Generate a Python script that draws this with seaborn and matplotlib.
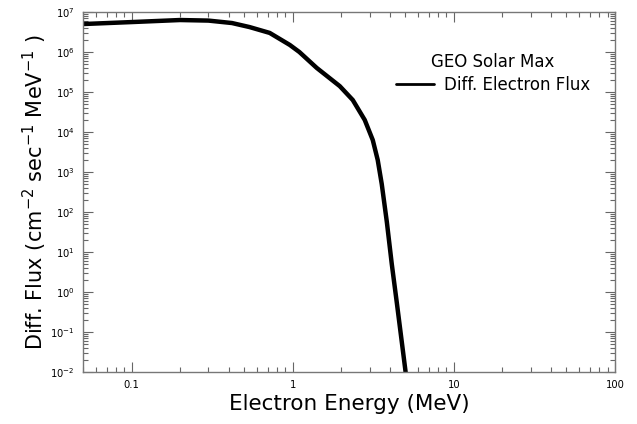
#!/usr/bin/env python
import numpy as np
import pandas as pd
import seaborn as sns
from matplotlib import pyplot as plt
from matplotlib.ticker import LogLocator, LogFormatterSciNotation, FixedLocator, FixedFormatter

sns.set_theme(style="ticks")
plt.rcParams['font.family'] = ['DejaVu Sans']
plt.rcParams['text.color'] = 'black'
plt.rcParams['axes.labelcolor'] = 'black'

# energy (MeV) and differential electron flux
energy = [0.05, 0.1, 0.2, 0.3, 0.42, 0.54, 0.72, 0.96, 1.1, 1.41, 1.96, 2.36,
          2.80, 3.14, 3.37, 3.57, 3.84, 4.12, 4.43, 5.02]
flux = [5.0e6, 5.6e6, 6.3e6, 6.1e6, 5.3e6, 4.2e6, 3.0e6, 1.5e6, 1.0e6, 4.0e5,
        1.4e5, 6.3e4, 2.0e4, 6.3e3, 2.0e3, 5.0e2, 5.6e1, 5.0, 5.3e-1, 1.0e-2]

df = pd.DataFrame({"energy": energy, "flux": flux, "series": "Diff. Electron Flux"})

fig = plt.figure(figsize=(6.37, 4.24), dpi=100)
ax = fig.add_axes([83/637, 1 - 372/424, (615 - 83)/637, (372 - 12)/424])

sns.lineplot(data=df, x="energy", y="flux", hue="series", palette=["black"],
             linewidth=3.2, ax=ax, legend=True)

ax.set_xscale("log")
ax.set_yscale("log")
ax.set_xlim(0.05, 100)
ax.set_ylim(1e-2, 1e7)

ax.xaxis.set_major_locator(FixedLocator([0.1, 1, 10, 100]))
ax.xaxis.set_major_formatter(FixedFormatter(["0.1", "1", "10", "100"]))
ax.xaxis.set_minor_locator(LogLocator(base=10, subs=np.arange(2, 10), numticks=20))
ax.yaxis.set_major_locator(LogLocator(base=10, numticks=20))
ax.yaxis.set_major_formatter(LogFormatterSciNotation())
ax.yaxis.set_minor_locator(LogLocator(base=10, subs=np.arange(2, 10), numticks=20))

ax.tick_params(which="both", direction="in", top=True, right=True, bottom=True, left=True,
               colors="#666666", labelcolor="black", labelsize=7.2)
ax.tick_params(which="major", length=7, width=0.8, pad=6)
ax.tick_params(which="minor", length=3.5, width=0.8)
for s in ax.spines.values():
    s.set_visible(True)
    s.set_color("#777777")
    s.set_linewidth(1)

ax.set_xlabel("Electron Energy (MeV)", fontsize=15.5, labelpad=3)
ax.set_ylabel("Diff. Flux (cm$^{-2}$ sec$^{-1}$ MeV$^{-1}$ )", fontsize=15, labelpad=1)

leg = ax.legend(title="GEO Solar Max", loc="upper right", bbox_to_anchor=(0.966, 0.905),
                frameon=False, fontsize=12, title_fontsize=12, handlelength=2.3,
                handletextpad=0.6, borderaxespad=0, labelspacing=0.3)
for line in leg.get_lines():
    line.set_linewidth(2)

fig.savefig("out.png", dpi=100)
